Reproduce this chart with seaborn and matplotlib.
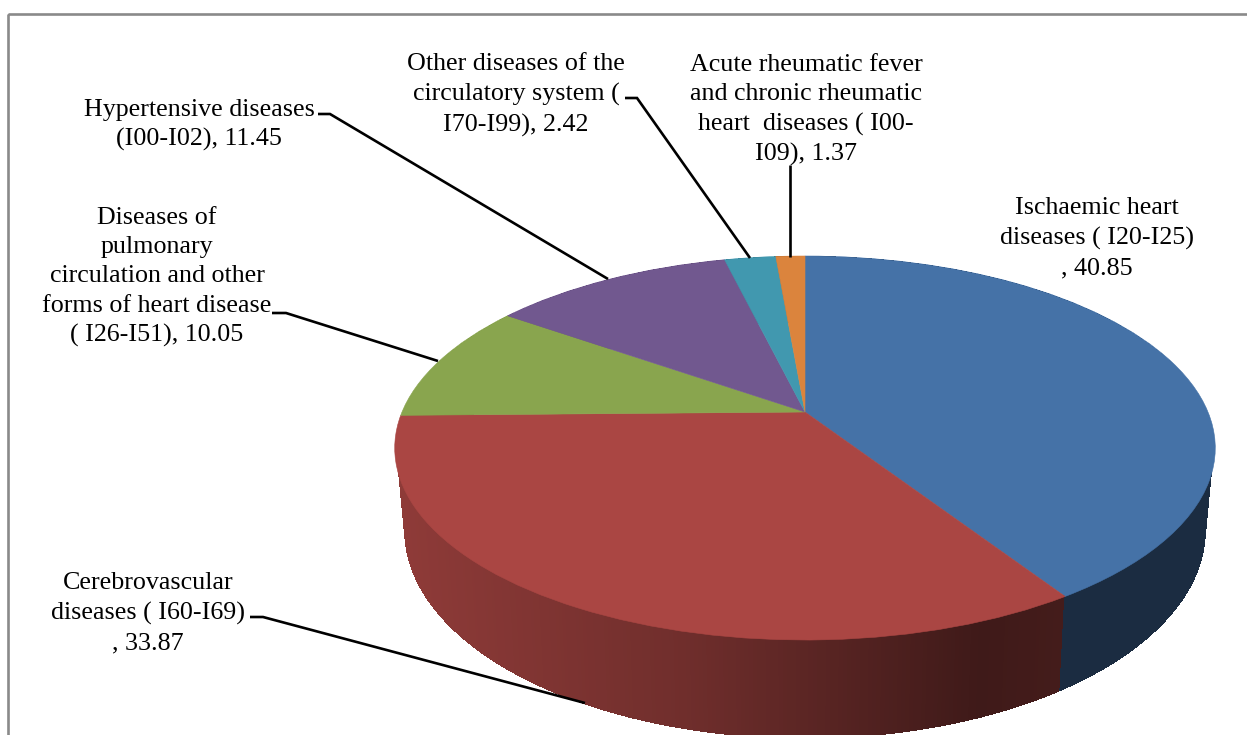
import numpy as np
import matplotlib
matplotlib.use("Agg")
import matplotlib.pyplot as plt
from matplotlib.collections import PolyCollection
from matplotlib.patches import Rectangle
from matplotlib.transforms import Transform
import seaborn as sns

# ---- data ----
categories = [
    "Ischaemic heart\ndiseases ( I20-I25)\n",
    "Cerebrovascular\ndiseases ( I60-I69)\n",
    "Diseases of\npulmonary\ncirculation and other\nforms of heart disease\n( I26-I51)",
    "Hypertensive diseases\n(I00-I02)",
    "Other diseases of the\ncirculatory system (\nI70-I99)",
    "Acute rheumatic fever\nand chronic rheumatic\nheart  diseases ( I00-\nI09)",
]
values = [40.85, 33.87, 10.05, 11.45, 2.42, 1.37]
slice_colors = ["#4572A7", "#AA4643", "#89A54E", "#71588F", "#4198AF", "#DB843D"]

# ---- layout ----
label_xy = [(1097, 238), (148, 613), (157, 277), (199, 125), (516, 95), (806, 110)]
leaders = [
    None,
    [(250, 617), (263, 617), (585, 703)],
    [(272, 313), (286, 313), (438, 361)],
    [(318, 114), (330, 114), (608, 279)],
    [(625, 98), (637, 98), (750, 258)],
    [(790, 165), (790, 257)],
]


class Perspective(Transform):
    """Projects the unit disc of the pie onto a tilted plane (pixel coordinates)."""
    input_dims = 2
    output_dims = 2
    is_separable = False

    def __init__(self, cx, cy, a, b, k=0.1875):
        super().__init__()
        self.cx, self.cy, self.a, self.b, self.k = cx, cy, a, b, k

    def transform_non_affine(self, v):
        v = np.asarray(v, float)
        w = 1 + self.k * v[:, 1]
        return np.column_stack([self.cx + self.a * v[:, 0] / w,
                                self.cy - self.b * v[:, 1] / w])


top_plane = Perspective(805, 412, 403, 185.25)
bottom_plane = Perspective(805, 491, 393, 200.7)

sns.set_theme(style="white")
plt.rcParams["font.family"] = ["Liberation Serif", "DejaVu Serif"]
palette = sns.color_palette(slice_colors)

fig = plt.figure(figsize=(12.47, 7.35), dpi=100, facecolor="white")
ax = fig.add_axes([0, 0, 1, 1])

wedges, _ = ax.pie(values, colors=palette, startangle=90, counterclock=False)
for w, color in zip(wedges, palette):
    w.set_transform(top_plane + ax.transData)
    w.set_edgecolor(color)
    w.set_linewidth(0.4)
    w.set_zorder(3)
ax.set_aspect("auto")
ax.set_xlim(0, 1247)
ax.set_ylim(735, 0)
ax.axis("off")

# side wall of the disc, shaded by horizontal position
edges = 90 - 3.6 * np.concatenate([[0], np.cumsum(values)])
for start, stop, color in zip(edges[:-1], edges[1:], palette):
    n = max(2, int(abs(stop - start) * 2))
    t = np.radians(np.linspace(start, stop, n + 1))
    disc = np.column_stack([np.cos(t), np.sin(t)])
    # the rim is pulled in a little so that it stays hidden under the top face
    upper = top_plane.transform_non_affine(disc * 0.995)
    lower = bottom_plane.transform_non_affine(disc)
    quads, shades = [], []
    for i in range(n):
        quads.append([upper[i], upper[i + 1], lower[i + 1], lower[i]])
        xm = (upper[i, 0] + upper[i + 1, 0]) / 2
        f = np.interp(xm, [394, 680, 980, 1060], [0.84, 0.66, 0.37, 0.40])
        if color == palette[0]:
            f = 0.39
        shades.append(tuple(np.array(color) * f))
    ax.add_collection(PolyCollection(quads, facecolors=shades, edgecolors=shades,
                                     linewidths=0.3, antialiaseds=False, zorder=2))

# chart frame
ax.add_patch(Rectangle((8, 14), 1300, 800, fill=False, edgecolor="#8A8A8A",
                       linewidth=1.9, zorder=1))

# leader lines and labels
for name, value, xy, path in zip(categories, values, label_xy, leaders):
    ax.text(xy[0], xy[1], f"{name}, {value:.2f}", ha="center", va="center",
            fontsize=18.7, linespacing=1.43, color="black", zorder=5)
    if path:
        p = np.array(path)
        ax.plot(p[:, 0], p[:, 1], color="black", lw=1.9, zorder=4,
                solid_capstyle="butt", solid_joinstyle="miter")

fig.savefig("out.png", dpi=100)
